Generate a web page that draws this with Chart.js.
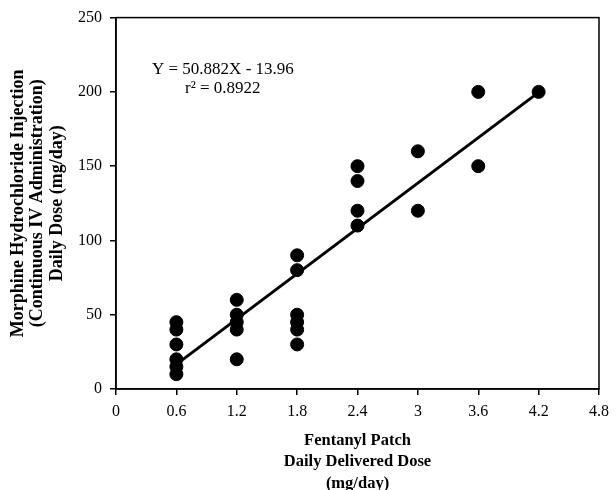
<!DOCTYPE html>
<html>
<head>
<meta charset="utf-8">
<script src="https://cdn.jsdelivr.net/npm/chart.js@4"></script>
<style>
  html, body { margin: 0; padding: 0; background: #fff; }
</style>
</head>
<body>
<canvas id="myChart" width="616" height="490"></canvas>
<script>
// patch dose (mg/day) vs morphine dose (mg/day)
const doseX = [0.6, 0.6, 0.6, 0.6, 0.6, 0.6,
               1.2, 1.2, 1.2, 1.2, 1.2,
               1.8, 1.8, 1.8, 1.8, 1.8, 1.8,
               2.4, 2.4, 2.4, 2.4,
               3.0, 3.0,
               3.6, 3.6,
               4.2];
const doseY = [45, 40, 30, 20, 15, 10,
               60, 50, 45, 40, 20,
               90, 80, 50, 45, 40, 30,
               150, 140, 120, 110,
               160, 120,
               200, 150,
               200];
const trendX = [0.6, 4.2];
const trendY = [16.6, 199.7];
const xTicks = [0, 0.6, 1.2, 1.8, 2.4, 3, 3.6, 4.2, 4.8];
const yTicks = [0, 50, 100, 150, 200, 250];
const eqLines = ['Y = 50.882X - 13.96', 'r² = 0.8922'];

const serif = '"Liberation Serif", "Times New Roman", serif';

const boxPlugin = {
    id: 'boxPlugin',
    afterDraw(chart) {
        const ctx = chart.ctx;
        const a = chart.chartArea;
        ctx.save();
        ctx.strokeStyle = '#000';
        ctx.lineWidth = 1.5;
        ctx.strokeRect(a.left, a.top, a.right - a.left, a.bottom - a.top);
        ctx.fillStyle = '#000';
        ctx.font = '17px ' + serif;
        ctx.textAlign = 'left';
        ctx.textBaseline = 'middle';
        ctx.fillText(eqLines[0], a.left + 36, a.top + 52);
        ctx.fillText(eqLines[1], a.left + 69, a.top + 71);
        ctx.restore();
    }
};

const points = doseX.map((x, i) => ({ x: x, y: doseY[i] }));
const trend = trendX.map((x, i) => ({ x: x, y: trendY[i] }));

const ctx = document.getElementById('myChart').getContext('2d');
const myChart = new Chart(ctx, {
    type: 'scatter',
    data: {
        datasets: [{
            label: 'Trend',
            data: trend,
            showLine: true,
            borderColor: '#000',
            borderWidth: 3,
            pointRadius: 0,
            fill: false
        }, {
            label: 'Data',
            data: points,
            backgroundColor: '#000',
            borderColor: '#000',
            pointRadius: 6.5,
            pointHoverRadius: 6.5
        }]
    },
    options: {
        responsive: false,
        animation: false,
        layout: { padding: { top: 17, right: 16, left: 8, bottom: 0 } },
        plugins: {
            legend: { display: false },
            tooltip: { enabled: false }
        },
        scales: {
            x: {
                type: 'linear',
                min: 0,
                max: 4.8,
                afterBuildTicks: axis => { axis.ticks = xTicks.map(v => ({ value: v })); },
                afterFit: axis => { axis.height = 101; },
                grid: { drawOnChartArea: false, drawTicks: true, tickLength: 6, color: '#000', lineWidth: 1.5 },
                border: { display: true, color: '#000', width: 1.5 },
                ticks: {
                    color: '#000',
                    font: { family: serif, size: 16 },
                    padding: 7,
                    maxRotation: 0,
                    callback: v => String(v)
                },
                title: {
                    display: true,
                    text: ['Fentanyl Patch', 'Daily Delivered Dose', '(mg/day)'],
                    color: '#000',
                    font: { family: serif, size: 16.5, weight: 'bold', lineHeight: 1.3 },
                    padding: { top: 18, bottom: -4 }
                }
            },
            y: {
                type: 'linear',
                min: 0,
                max: 250,
                afterBuildTicks: axis => { axis.ticks = yTicks.map(v => ({ value: v })); },
                afterFit: axis => { axis.width = 108; },
                grid: { drawOnChartArea: false, drawTicks: true, tickLength: 6, color: '#000', lineWidth: 1.5 },
                border: { display: true, color: '#000', width: 1.5 },
                ticks: {
                    color: '#000',
                    font: { family: serif, size: 16 },
                    padding: 8
                },
                title: {
                    display: true,
                    text: ['Morphine Hydrochloride Injection', '(Continuous IV Administration)', 'Daily Dose (mg/day)'],
                    color: '#000',
                    font: { family: serif, size: 18, weight: 'bold', lineHeight: 1.1 },
                    padding: { top: 0, bottom: 0 }
                }
            }
        }
    },
    plugins: [boxPlugin]
});
</script>
</body>
</html>
